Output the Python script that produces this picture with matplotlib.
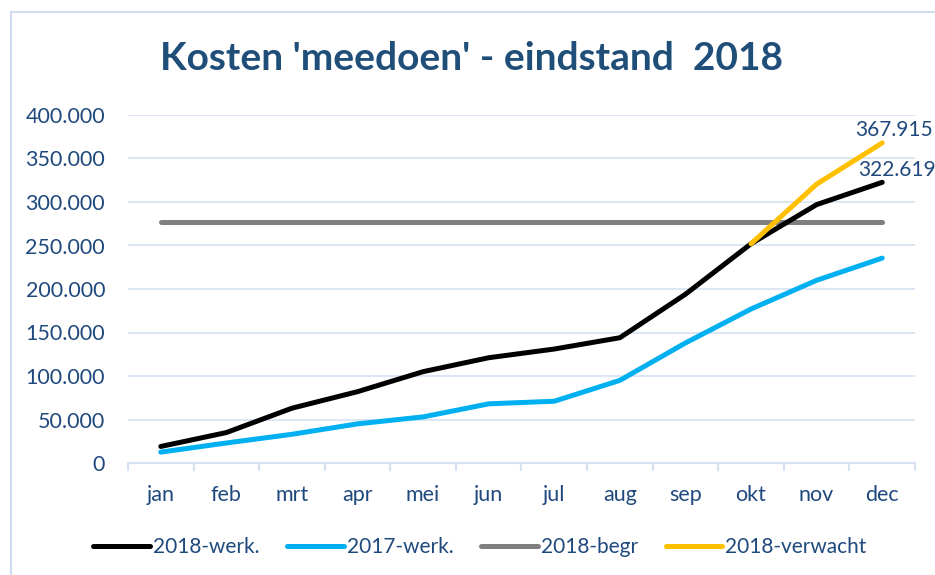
import matplotlib
matplotlib.use("Agg")
from matplotlib import pyplot as plt
from matplotlib.patches import Rectangle

plt.rcParams['font.family'] = ['Lato', 'DejaVu Sans']

months = ["jan", "feb", "mrt", "apr", "mei", "jun", "jul", "aug", "sep", "okt", "nov", "dec"]
werk_2018 = [19000, 35000, 63000, 82000, 105000, 121000, 131000, 144000, 194000, 252000, 297000, 322619]
werk_2017 = [12500, 23000, 33000, 45000, 53000, 68000, 71000, 95000, 138000, 177000, 210000, 235500]
begr_2018 = [277000] * 12
# verwacht only from okt onwards
verwacht_months = ["okt", "nov", "dec"]
verwacht_2018 = [252000, 320500, 367915]

text_col = "#1F497D"
grid_col = "#D6E2F2"

W, H = 935, 575
fig = plt.figure(figsize=(W / 100, H / 100), dpi=100)

# chart border
fig.patches.append(Rectangle((11 / W, -0.1), 1.2, (575 - 12) / H + 0.1, transform=fig.transFigure,
                             fill=False, edgecolor="#D0DDEE", lw=1.5))

ax = fig.add_axes([128 / W, (H - 463) / H, (915 - 128) / W, (463 - 115) / H])
x = list(range(len(months)))
xv = [months.index(m) for m in verwacht_months]

ax.plot(x, werk_2017, color="#00B0F0", lw=3.6, solid_capstyle="round", label="2017-werk.", zorder=3)
ax.plot(x, begr_2018, color="#808080", lw=3.6, solid_capstyle="round", label="2018-begr", zorder=3)
ax.plot(x, werk_2018, color="black", lw=3.6, solid_capstyle="round", label="2018-werk.", zorder=4)
ax.plot(xv, verwacht_2018, color="#FFC000", lw=3.6, solid_capstyle="round", label="2018-verwacht", zorder=5)

ax.set_xlim(-0.5, 11.5)
ax.set_ylim(0, 400000)
ax.set_yticks(range(0, 400001, 50000))
ax.set_yticklabels([f"{v:,}".replace(",", ".") for v in range(0, 400001, 50000)])
ax.set_xticks(x)
ax.set_xticklabels(months)
ax.set_xticks([i - 0.5 for i in range(13)], minor=True)
ax.tick_params(axis="y", length=0, pad=16.5, labelsize=15.5, labelcolor=text_col)
ax.tick_params(axis="x", which="major", length=0, pad=16, labelsize=15.5, labelcolor=text_col)
ax.tick_params(axis="x", which="minor", length=5.5, width=1.5, color=grid_col)
ax.grid(axis="y", color=grid_col, lw=1.2)
ax.set_axisbelow(True)
for s in ["top", "right", "left"]:
    ax.spines[s].set_visible(False)
ax.spines["bottom"].set_color(grid_col)
ax.spines["bottom"].set_linewidth(1.5)

# data labels
ax.annotate(f"{werk_2018[-1]:,}".replace(",", "."), (11, werk_2018[-1]), xytext=(15, 12),
            textcoords="offset pixels", ha="center", va="center", fontsize=15, color=text_col)
ax.annotate(f"{verwacht_2018[-1]:,}".replace(",", "."), (11, verwacht_2018[-1]), xytext=(12, 13),
            textcoords="offset pixels", ha="center", va="center", fontsize=15, color=text_col)

fig.text(472 / W, 1 - 58 / H, "Kosten 'meedoen' - eindstand  2018", ha="center", va="center",
         fontsize=28, fontweight="bold", color="#1F4E79")

handles, labels = ax.get_legend_handles_labels()
order = [2, 0, 1, 3]
fig.legend([handles[i] for i in order], [labels[i] for i in order], loc="center",
           bbox_to_anchor=(480 / W, 1 - 547 / H), ncol=4, frameon=False, fontsize=15,
           handlelength=2.7, handletextpad=0.15, columnspacing=1.35, labelcolor=text_col,
           borderpad=0, borderaxespad=0)

fig.savefig("out.png", dpi=100)
